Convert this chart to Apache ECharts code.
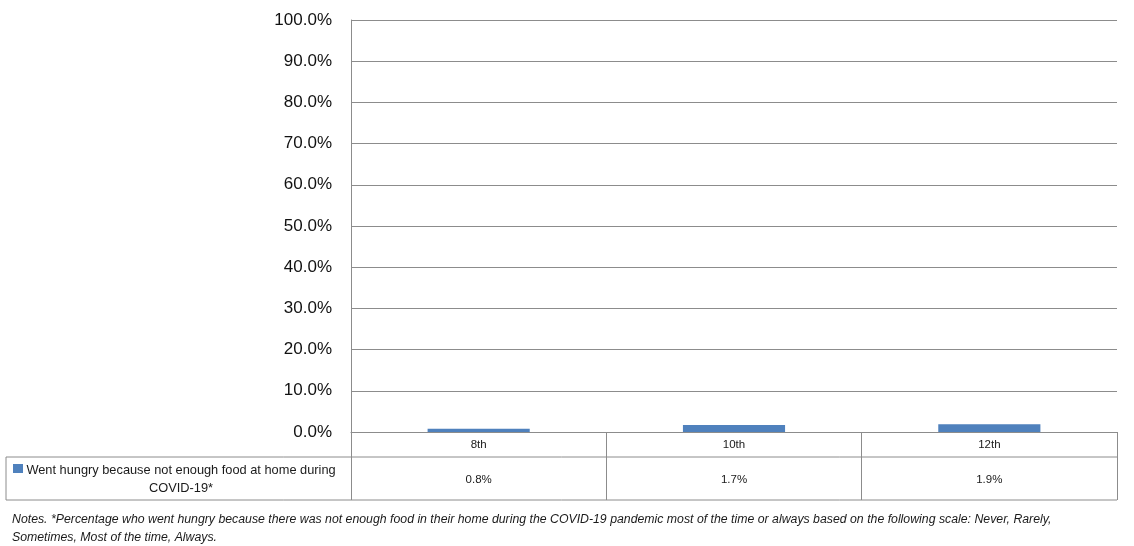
<!DOCTYPE html>
<html>
<head>
<meta charset="utf-8">
<script src="https://cdn.jsdelivr.net/npm/echarts@6/dist/echarts.min.js"></script>
<style>
html,body{margin:0;padding:0;background:#fff;}
#chart{width:1134px;height:546px;}
</style>
</head>
<body>
<div id="chart"></div>
<script>
var categories = ['8th', '10th', '12th'];
var values = [0.8, 1.7, 1.9];
var seriesName = 'Went hungry because not enough food at home during COVID-19*';
var legendLines = ['Went hungry because not enough food at home during', 'COVID-19*'];
var notesLines = [
  'Notes. *Percentage who went hungry because there was not enough food in their home during the COVID-19 pandemic most of the time or always based on the following scale: Never, Rarely,',
  'Sometimes, Most of the time, Always.'
];

var L = 351, R = 1117, T = 20, B = 432;
var ROW1 = 457, ROW2 = 500, TL = 6;
var lineColor = '#8c8c8c';
var font = '"Liberation Sans", Arial, sans-serif';

var chart = echarts.init(document.getElementById('chart'));
chart.setOption({
  animation: false,
  grid: { left: L, right: 1134 - R, top: T, bottom: 546 - B, containLabel: false },
  xAxis: {
    type: 'category',
    data: categories,
    boundaryGap: true,
    axisLine: { show: true, lineStyle: { color: lineColor, width: 1 } },
    axisTick: { show: true, length: ROW2 - B, alignWithLabel: false, lineStyle: { color: lineColor, width: 1 } },
    axisLabel: {
      margin: 0,
      interval: 0,
      formatter: function (v, i) { return '{a|' + v + '}\n{b|' + values[i].toFixed(1) + '%}'; },
      rich: {
        a: { fontFamily: font, fontSize: 11.5, lineHeight: ROW1 - B, color: '#1a1a1a' },
        b: { fontFamily: font, fontSize: 11.5, lineHeight: ROW2 - ROW1 + 2, color: '#1a1a1a' }
      }
    },
    splitLine: { show: false }
  },
  yAxis: {
    type: 'value',
    min: 0, max: 100, interval: 10,
    axisLine: { show: true, lineStyle: { color: lineColor, width: 1 } },
    axisTick: { show: false },
    axisLabel: {
      margin: 19,
      formatter: function (v) { return v.toFixed(1) + '%'; },
      fontFamily: font, fontSize: 17, color: '#111'
    },
    splitLine: { show: true, lineStyle: { color: lineColor, width: 1 } }
  },
  series: [{
    name: seriesName,
    type: 'bar',
    data: values,
    barWidth: '40%',
    itemStyle: { color: '#4f81bd' }
  }],
  graphic: [
    { type: 'line', shape: { x1: TL, y1: ROW1, x2: R, y2: ROW1 }, style: { stroke: lineColor, lineWidth: 1 } },
    { type: 'line', shape: { x1: TL, y1: ROW2, x2: R, y2: ROW2 }, style: { stroke: lineColor, lineWidth: 1 } },
    { type: 'line', shape: { x1: TL, y1: ROW1, x2: TL, y2: ROW2 }, style: { stroke: lineColor, lineWidth: 1 } },
    { type: 'rect', shape: { x: 13, y: 464, width: 10, height: 9 }, style: { fill: '#4f81bd' } },
    { type: 'text', x: 181, y: 461, style: {
        text: legendLines.join('\n'), fontFamily: font, fontSize: 12.8, lineHeight: 18,
        align: 'center', verticalAlign: 'top', fill: '#1a1a1a' } },
    { type: 'text', x: 12, y: 511, style: {
        text: notesLines.join('\n'), fontFamily: font, fontSize: 12.3, fontStyle: 'italic', lineHeight: 18,
        align: 'left', verticalAlign: 'top', fill: '#1a1a1a' } }
  ]
});
</script>
</body>
</html>
